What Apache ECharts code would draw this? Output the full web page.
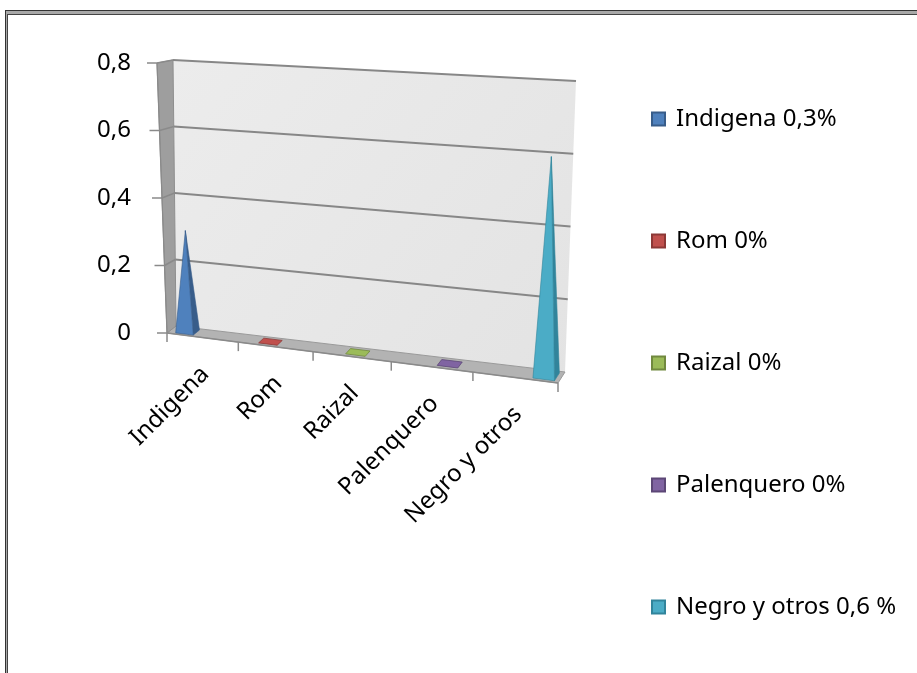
<!DOCTYPE html>
<html>
<head>
<meta charset="utf-8">
<script src="https://cdn.jsdelivr.net/npm/echarts@6/dist/echarts.min.js"></script>
<style>
  html, body { margin: 0; padding: 0; background: #fff; }
  #chart { width: 917px; height: 673px; }
</style>
</head>
<body>
<div id="chart"></div>
<script>
// Data
const categories = ['Indigena', 'Rom', 'Raizal', 'Palenquero', 'Negro y otros'];
const seriesNames = ['Indigena 0,3%', 'Rom 0%', 'Raizal 0%', 'Palenquero 0%', 'Negro y otros 0,6 %'];
const values = [0.3, 0, 0, 0, 0.6];
const yTicks = [0, 0.2, 0.4, 0.6, 0.8];

// Styling
const FONT = '"Noto Sans", "DejaVu Sans", sans-serif';
const colors = ['#4F81BD', '#C0504D', '#9BBB59', '#8064A2', '#4BACC6'];
const darkColors = ['#385D8A', '#8C3836', '#71893F', '#5C4776', '#31849B'];

// Perspective view: corner offsets (px) of the front and back planes
// relative to the flat grid rectangle, plus a horizontal foreshortening factor.
const VIEW = {
  front: { tl: [0, 0], tr: [4, 25], bl: [10, 0], br: [0, 50] },
  back:  { tl: [16, -3], tr: [18, 18], bl: [19, -7], br: [7, 39] },
  warp: 0.11
};

function makeProjector(cs) {
  const x0 = cs.x, y0 = cs.y, x1 = cs.x + cs.width, y1 = cs.y + cs.height;
  const quad = o => ({
    tl: [x0 + o.tl[0], y0 + o.tl[1]], tr: [x1 + o.tr[0], y0 + o.tr[1]],
    bl: [x0 + o.bl[0], y1 + o.bl[1]], br: [x1 + o.br[0], y1 + o.br[1]]
  });
  const F = quad(VIEW.front), B = quad(VIEW.back);
  function onPlane(q, u, t) {
    const bx = q.bl[0] + (q.br[0] - q.bl[0]) * u, by = q.bl[1] + (q.br[1] - q.bl[1]) * u;
    const tx = q.tl[0] + (q.tr[0] - q.tl[0]) * u, ty = q.tl[1] + (q.tr[1] - q.tl[1]) * u;
    return [bx + (tx - bx) * t, by + (ty - by) * t];
  }
  // u: horizontal fraction, t: vertical fraction, d: depth (0 front, 1 back)
  return function (u, t, d) {
    const w = u - VIEW.warp * u * (1 - u);
    const a = onPlane(F, w, t), b = onPlane(B, w, t);
    return [a[0] + (b[0] - a[0]) * d, a[1] + (b[1] - a[1]) * d];
  };
}

function fracX(cs, px) { return (px - cs.x) / cs.width; }
function fracY(cs, py) { return (cs.y + cs.height - py) / cs.height; }

function poly(points, fill, stroke, lw) {
  return { type: 'polygon', shape: { points }, style: { fill, stroke: stroke || null, lineWidth: lw || 0 } };
}
function line(a, b, stroke, lw) {
  return { type: 'line', shape: { x1: a[0], y1: a[1], x2: b[0], y2: b[1] }, style: { stroke, lineWidth: lw } };
}

// Walls, floor, gridlines, ticks and category labels
function renderScene(params, api) {
  const cs = params.coordSys;
  const P = makeProjector(cs);
  const i = params.dataIndex;
  const band = api.size([1, 0])[0];
  const c = api.coord([i, 0]);
  const children = [];

  if (i === 0) {
    // back wall
    children.push({
      type: 'polygon',
      shape: { points: [P(0, 0, 1), P(1, 0, 1), P(1, 1, 1), P(0, 1, 1)] },
      style: {
        fill: new echarts.graphic.LinearGradient(0, 0, 1, 1, [
          { offset: 0, color: '#ececec' }, { offset: 1, color: '#e3e3e3' }
        ])
      }
    });
    // floor
    children.push(poly([P(0, 0, 0), P(1, 0, 0), P(1, 0, 1), P(0, 0, 1)], '#b3b3b3', '#9a9a9a', 1));
    // side wall
    children.push(poly([P(0, 0, 0), P(0, 1, 0), P(0, 1, 1), P(0, 0, 1)], '#9e9e9e', '#8e8e8e', 1));
    // gridlines on back and side wall, value ticks on front edge
    yTicks.forEach(v => {
      const t = fracY(cs, api.coord([0, v])[1]);
      if (v > 0) {
        children.push(line(P(0, t, 1), P(1, t, 1), '#878787', 1.8));
        children.push(line(P(0, t, 0), P(0, t, 1), '#8a8a8a', 1.5));
      }
      const f = P(0, t, 0);
      children.push(line([f[0] - 10, f[1]], f, '#8a8a8a', 1.5));
    });
    // value axis line along the front edge of the side wall
    children.push(line(P(0, 0, 0), P(0, 1, 0), '#8a8a8a', 1.2));
    // category axis line along the front edge of the floor
    children.push(line(P(0, 0, 0), P(1, 0, 0), '#8a8a8a', 1.5));
  }

  // category boundary ticks
  const bounds = [c[0] - band / 2];
  if (i === categories.length - 1) bounds.push(c[0] + band / 2);
  bounds.forEach(bx => {
    const p = P(fracX(cs, bx), 0, 0);
    children.push(line(p, [p[0], p[1] + 9], '#8a8a8a', 1.5));
  });

  // category label, rotated 45 degrees, anchored at its end
  const a = P(fracX(cs, c[0]), 0, 0);
  children.push({
    type: 'text',
    x: a[0] + 3, y: a[1] + 33,
    rotation: Math.PI / 4,
    style: {
      text: categories[i], fill: '#000', font: '24px ' + FONT,
      align: 'right', verticalAlign: 'middle'
    }
  });
  return { type: 'group', children };
}

// One pyramid (or a flat marker for zero) per series, placed in its cluster slot
function renderPyramid(params, api, k) {
  const cs = params.coordSys;
  const P = makeProjector(cs);
  const cat = api.value(0), val = api.value(1);
  const band = api.size([1, 0])[0];
  const c = api.coord([cat, 0]);
  const top = api.coord([cat, val]);
  const slot = 0.23 + 0.148 * k;
  const u = fracX(cs, c[0] - band / 2 + slot * band);
  const hw = 0.125 * band / cs.width;
  const t = fracY(cs, top[1]);
  const d0 = 0.15, d1 = 0.85;
  if (val <= 0) {
    return poly([P(u - hw, 0, 0.2), P(u + hw, 0, 0.2), P(u + hw, 0, 0.8), P(u - hw, 0, 0.8)],
      colors[k], darkColors[k], 0.8);
  }
  const apex = P(u, t, 0.5);
  const fl = P(u - hw, 0, d0), fr = P(u + hw, 0, d0), br = P(u + hw, 0, d1);
  return {
    type: 'group',
    children: [
      poly([fr, br, apex], darkColors[k], darkColors[k], 0.6),
      poly([fl, fr, apex], colors[k], darkColors[k], 0.6)
    ]
  };
}

const chart = echarts.init(document.getElementById('chart'), null, { renderer: 'canvas' });

const series = [{
  type: 'custom',
  name: '_scene',
  z: 1,
  silent: true,
  renderItem: renderScene,
  encode: { x: 0, y: 1 },
  data: categories.map((_, i) => [i, 0])
}].concat(seriesNames.map((name, k) => ({
  type: 'custom',
  name,
  z: 3,
  itemStyle: { color: colors[k], borderColor: darkColors[k], borderWidth: 1 },
  renderItem: (p, a) => renderPyramid(p, a, k),
  encode: { x: 0, y: 1 },
  data: [[k, values[k]]]
})));

chart.setOption({
  animation: false,
  graphic: [
    { type: 'rect', z: -10, shape: { x: 5, y: 10, width: 1000, height: 1000 }, style: { fill: '#333' } },
    { type: 'rect', z: -10, shape: { x: 6, y: 11, width: 1000, height: 1000 }, style: { fill: '#a8a8a8' } },
    { type: 'rect', z: -10, shape: { x: 7, y: 14, width: 1000, height: 1000 }, style: { fill: '#444' } },
    { type: 'rect', z: -10, shape: { x: 8, y: 15, width: 1000, height: 1000 }, style: { fill: '#fff' } }
  ],
  grid: { left: 157, top: 63, right: 359, bottom: 340, containLabel: false },
  xAxis: {
    type: 'category',
    data: categories,
    show: false
  },
  yAxis: {
    type: 'value',
    min: 0, max: 0.8, interval: 0.2,
    axisLine: { show: false },
    axisTick: { show: false },
    splitLine: { show: false },
    axisLabel: {
      margin: 26,
      color: '#000',
      fontFamily: FONT,
      fontSize: 24,
      formatter: v => (v === 0 ? '0' : v.toFixed(1).replace('.', ','))
    }
  },
  legend: {
    data: seriesNames,
    orient: 'vertical',
    left: 646,
    top: 102,
    itemWidth: 13,
    itemHeight: 13,
    itemGap: 98,
    icon: 'rect',
    textStyle: {
      color: '#000',
      fontFamily: FONT,
      fontSize: 24,
      lineHeight: 24,
      padding: [0, 0, 0, 6]
    }
  },
  series
});
</script>
</body>
</html>
